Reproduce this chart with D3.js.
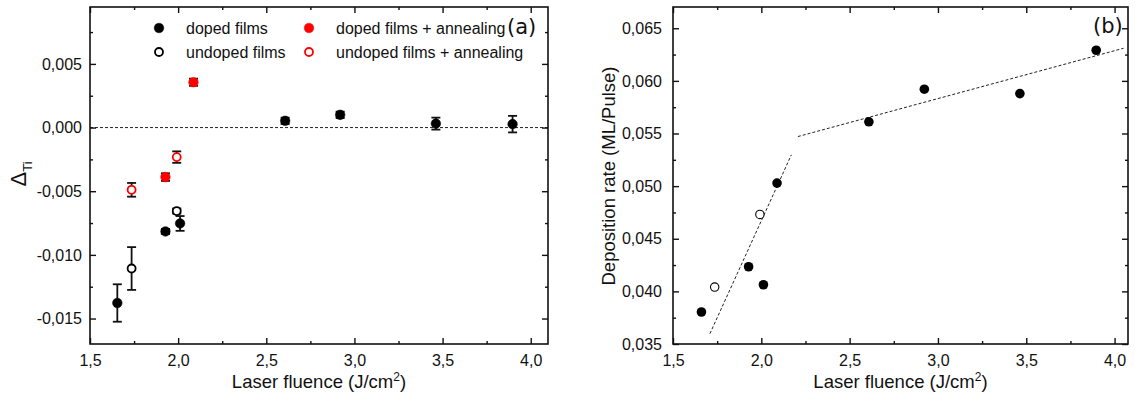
<!DOCTYPE html>
<html lang="en">
<head>
<meta charset="utf-8">
<title>Laser fluence</title>
<script src="https://cdn.jsdelivr.net/npm/d3@7/dist/d3.min.js"></script>
<style>
  body { margin: 0; background: #fff; }
  svg text { font-family: Arial, "Liberation Sans", sans-serif; fill: #111; }
</style>
</head>
<body></body>
<script type="text/javascript">

/*********************************************************************/
// Data

// panel (a): Delta_Ti vs fluence
var xDoped      = [1.655, 1.928, 2.011, 2.607, 2.919, 3.462, 3.897];
var dDoped      = [-0.01378, -0.00816, -0.00753, 0.00053, 0.00100, 0.00031, 0.00027];
var eDoped      = [0.00147, 0.00020, 0.00058, 0.00025, 0.00025, 0.00047, 0.00065];

var xUndoped    = [1.736, 1.992];
var dUndoped    = [-0.01107, -0.00656];
var eUndoped    = [0.00168, 0.00020];

var xDopedAnn   = [1.928, 2.087];
var dDopedAnn   = [-0.00389, 0.00356];
var eDopedAnn   = [0.00030, 0.00028];

var xUndopedAnn = [1.736, 1.992];
var dUndopedAnn = [-0.00489, -0.00232];
var eUndopedAnn = [0.00054, 0.00045];

var legendLabels = ["doped films", "undoped films", "doped films + annealing", "undoped films + annealing"];

// panel (b): deposition rate vs fluence
var xRate       = [1.661, 1.928, 2.012, 2.089, 2.609, 2.923, 3.464, 3.896];
var rate        = [0.03804, 0.04234, 0.04063, 0.05029, 0.05611, 0.05921, 0.05879, 0.06291];
var xRateOpen   = [1.736, 1.992];
var rateOpen    = [0.04041, 0.04731];
var fitLow      = [[1.709, 0.03598], [2.170, 0.05297]];
var fitHigh     = [[2.207, 0.05471], [4.051, 0.06310]];

var xTicks      = [1.5, 2.0, 2.5, 3.0, 3.5, 4.0];
var xMinor      = [1.75, 2.25, 2.75, 3.25, 3.75];
var yTicksA     = [-0.015, -0.010, -0.005, 0.000, 0.005];
var yMinorA     = [-0.0125, -0.0075, -0.0025, 0.0025, 0.0075];
var yTicksB     = [0.035, 0.040, 0.045, 0.050, 0.055, 0.060, 0.065];
var yMinorB     = [0.0375, 0.0425, 0.0475, 0.0525, 0.0575, 0.0625];

/*********************************************************************/
// Canvas

var svg = d3.select("body").append("svg")
	.attr("width", 1135)
	.attr("height", 394);

// decimal comma, plain hyphen for minus
var comma = function(n){ return function(d){ return d3.format("." + n + "f")(d).replace(".", ",").replace("\u2212", "-"); }; };

function zip(xs, ys, es){
	return xs.map(function(x, i){ return {x: x, y: ys[i], e: es ? es[i] : 0}; });
}

// frame with inward ticks on four sides
function frame(g, x, y, yT, yM, yFmt, yPad){
	var w = x.range()[1] - x.range()[0];
	var h = y.range()[0] - y.range()[1];

	var ax = [
		{ax: d3.axisBottom(x).tickValues(xTicks).tickFormat(comma(1)).tickSizeInner(-6).tickPadding(11), t: "translate(0," + h + ")"},
		{ax: d3.axisBottom(x).tickValues(xMinor).tickFormat("").tickSizeInner(-3), t: "translate(0," + h + ")"},
		{ax: d3.axisTop(x).tickValues(xTicks).tickFormat("").tickSizeInner(-6), t: null},
		{ax: d3.axisTop(x).tickValues(xMinor).tickFormat("").tickSizeInner(-3), t: null},
		{ax: d3.axisLeft(y).tickValues(yT).tickFormat(yFmt).tickSizeInner(-6).tickPadding(yPad), t: null},
		{ax: d3.axisLeft(y).tickValues(yM).tickFormat("").tickSizeInner(-3), t: null},
		{ax: d3.axisRight(y).tickValues(yT).tickFormat("").tickSizeInner(-6), t: "translate(" + w + ",0)"},
		{ax: d3.axisRight(y).tickValues(yM).tickFormat("").tickSizeInner(-3), t: "translate(" + w + ",0)"}
	];
	ax.forEach(function(a){
		var s = g.append("g").call(a.ax.tickSizeOuter(0));
		if(a.t) s.attr("transform", a.t);
		s.select(".domain").remove();
		s.selectAll("line").attr("stroke", "#111").attr("stroke-width", 1.4);
		s.selectAll("text").style("font-size", "16px").attr("fill", "#111");
	});

	g.append("rect")
		.attr("width", w).attr("height", h)
		.attr("fill", "none")
		.attr("stroke", "#111")
		.attr("stroke-width", 1.6);
}

/*********************************************************************/
// Panel (a)

var A = {left: 90, top: 7, right: 548, bottom: 344};
var xA = d3.scaleLinear().domain([1.5, 4.098]).range([0, A.right - A.left]);
var yA = d3.scaleLinear().domain([-0.0170, 0.00947]).range([A.bottom - A.top, 0]);

var gA = svg.append("g").attr("transform", "translate(" + A.left + "," + A.top + ")");

// zero line
gA.append("line")
	.attr("x1", 0).attr("x2", xA.range()[1])
	.attr("y1", yA(0)).attr("y2", yA(0))
	.attr("stroke", "#222")
	.attr("stroke-width", 1)
	.attr("stroke-dasharray", "3,2");

frame(gA, xA, yA, yTicksA, yMinorA, comma(3), 8);

function errorSeries(data, fill, stroke){
	var s = gA.append("g");
	var eb = s.selectAll(".eb").data(data).enter().append("g");
	eb.append("line")
		.attr("x1", function(d){ return xA(d.x); }).attr("x2", function(d){ return xA(d.x); })
		.attr("y1", function(d){ return yA(d.y - d.e); }).attr("y2", function(d){ return yA(d.y + d.e); })
		.attr("stroke", "#111").attr("stroke-width", 1.8);
	[-1, 1].forEach(function(k){
		eb.append("line")
			.attr("x1", function(d){ return xA(d.x) - 4.5; }).attr("x2", function(d){ return xA(d.x) + 4.5; })
			.attr("y1", function(d){ return yA(d.y + k*d.e); }).attr("y2", function(d){ return yA(d.y + k*d.e); })
			.attr("stroke", "#111").attr("stroke-width", 1.8);
	});
	s.selectAll("circle").data(data).enter().append("circle")
		.attr("cx", function(d){ return xA(d.x); })
		.attr("cy", function(d){ return yA(d.y); })
		.attr("r", fill === "white" ? 4 : 4.8)
		.attr("fill", fill)
		.attr("stroke", stroke)
		.attr("stroke-width", fill === "white" ? 1.8 : 0.5);
}

errorSeries(zip(xDoped, dDoped, eDoped), "#000", "#000");
errorSeries(zip(xUndoped, dUndoped, eUndoped), "white", "#000");
errorSeries(zip(xDopedAnn, dDopedAnn, eDopedAnn), "#ff0000", "#ff0000");
errorSeries(zip(xUndopedAnn, dUndopedAnn, eUndopedAnn), "white", "#ff0000");

// legend
var legendPos = [[159, 28], [159, 52], [309, 28], [309, 52]];
var legendStyle = [["#000", "#000"], ["white", "#000"], ["#ff0000", "#ff0000"], ["white", "#ff0000"]];
var lg = svg.append("g");
legendLabels.forEach(function(lab, i){
	var p = legendPos[i], st = legendStyle[i];
	lg.append("circle")
		.attr("cx", p[0]).attr("cy", p[1])
		.attr("r", st[0] === "white" ? 4 : 4.8)
		.attr("fill", st[0]).attr("stroke", st[1])
		.attr("stroke-width", st[0] === "white" ? 1.8 : 0.5);
	lg.append("text")
		.attr("x", p[0] + 27).attr("y", p[1] + 6)
		.style("font-size", "16px")
		.text(lab);
});

svg.append("text")
	.attr("x", 507).attr("y", 34)
	.style("font-family", "'DejaVu Sans', sans-serif")
	.style("font-size", "21px")
	.text("(a)");

// axis titles
svg.append("text")
	.attr("x", (A.left + A.right)/2).attr("y", 388)
	.attr("text-anchor", "middle")
	.style("font-size", "18.5px")
	.html("Laser fluence (J/cm<tspan dy='-7' style='font-size:12px'>2</tspan><tspan dy='7'>)</tspan>");

svg.append("text")
	.attr("transform", "translate(26,174) rotate(-90)")
	.attr("text-anchor", "middle")
	.style("font-size", "22px")
	.html("\u0394<tspan dy='6' style='font-size:13px'>Ti</tspan>");

/*********************************************************************/
// Panel (b)

var B = {left: 673, top: 7, right: 1128, bottom: 344};
var xB = d3.scaleLinear().domain([1.5, 4.076]).range([0, B.right - B.left]);
var yB = d3.scaleLinear().domain([0.035, 0.06702]).range([B.bottom - B.top, 0]);

var gB = svg.append("g").attr("transform", "translate(" + B.left + "," + B.top + ")");

frame(gB, xB, yB, yTicksB, yMinorB, comma(3), 11);

var fitLine = d3.line()
	.x(function(d){ return xB(d[0]); })
	.y(function(d){ return yB(d[1]); });

[fitLow, fitHigh].forEach(function(f){
	gB.append("path")
		.attr("d", fitLine(f))
		.attr("fill", "none")
		.attr("stroke", "#222")
		.attr("stroke-width", 1)
		.attr("stroke-dasharray", "3,2");
});

gB.selectAll(".pf").data(zip(xRate, rate)).enter().append("circle")
	.attr("cx", function(d){ return xB(d.x); })
	.attr("cy", function(d){ return yB(d.y); })
	.attr("r", 4.8)
	.attr("fill", "#000");

gB.selectAll(".po").data(zip(xRateOpen, rateOpen)).enter().append("circle")
	.attr("cx", function(d){ return xB(d.x); })
	.attr("cy", function(d){ return yB(d.y); })
	.attr("r", 4.2)
	.attr("fill", "white")
	.attr("stroke", "#000")
	.attr("stroke-width", 1.1);

svg.append("text")
	.attr("x", 1093).attr("y", 33)
	.style("font-family", "'DejaVu Sans', sans-serif")
	.style("font-size", "21px")
	.text("(b)");

svg.append("text")
	.attr("x", (B.left + B.right)/2).attr("y", 388)
	.attr("text-anchor", "middle")
	.style("font-size", "18.5px")
	.html("Laser fluence (J/cm<tspan dy='-7' style='font-size:12px'>2</tspan><tspan dy='7'>)</tspan>");

svg.append("text")
	.attr("transform", "translate(615,176) rotate(-90)")
	.attr("text-anchor", "middle")
	.style("font-size", "18.5px")
	.text("Deposition rate (ML/Pulse)");

</script>
</html>
